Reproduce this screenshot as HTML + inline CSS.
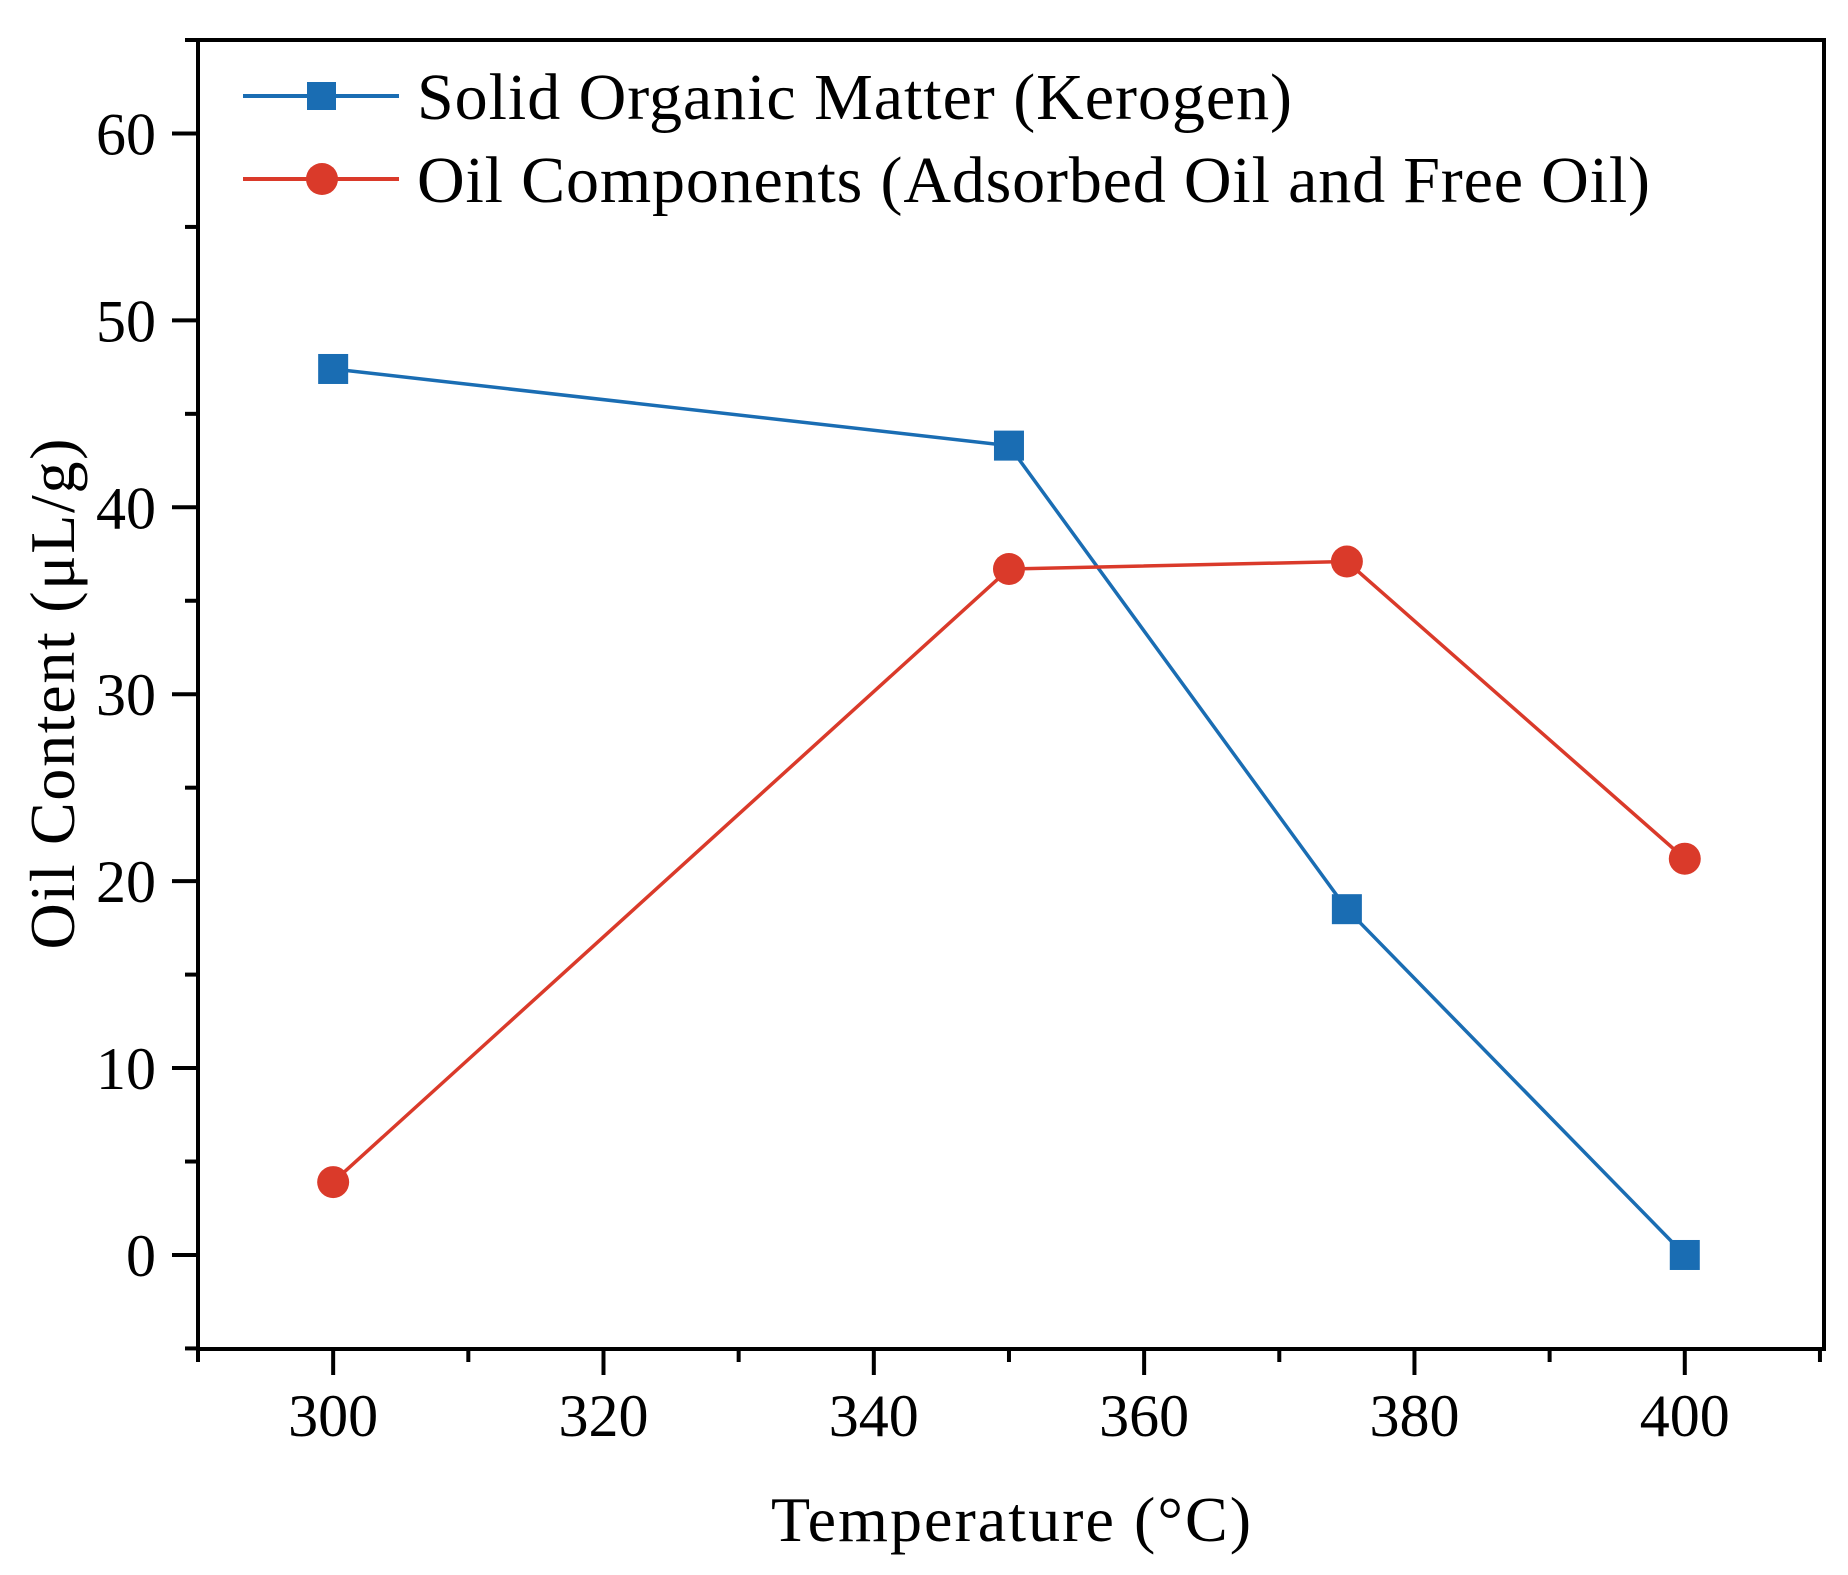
<!DOCTYPE html>
<html><head><meta charset="utf-8"><style>
html,body{margin:0;padding:0;background:#fff;}
svg{display:block;font-family:"Liberation Serif","DejaVu Serif",serif;}
</style></head><body>
<svg id="chart" width="1848" height="1575" viewBox="0 0 1848 1575" xmlns="http://www.w3.org/2000/svg"></svg>
<script>
const categories = [300, 350, 375, 400];
const kerogenValues = [47.4, 43.3, 18.5, 0];
const oilValues = [3.9, 36.7, 37.1, 21.2];
const xTickLabels = [300, 320, 340, 360, 380, 400];
const yTickLabels = [0, 10, 20, 30, 40, 50, 60];

const NS = "http://www.w3.org/2000/svg";
const svg = document.getElementById('chart');
const L = 198, R = 1824, T = 40, B = 1349;
const xMin = 290, xMax = 410.3, yMin = -5.03, yMax = 65;
const xs = v => L + (v - xMin) / (xMax - xMin) * (R - L);
const ys = v => B - (v - yMin) / (yMax - yMin) * (B - T);
function mk(tag, attrs, parent) {
  const e = document.createElementNS(NS, tag);
  for (const k in attrs) e.setAttribute(k, attrs[k]);
  (parent || svg).appendChild(e);
  return e;
}

const frame = mk('rect', {x: L, y: T, width: R - L, height: B - T, fill: 'none', stroke: '#000', 'stroke-width': 4});



for (let v = 290; v <= 410; v += 10) {
  const major = v % 20 === 0;
  const t = mk('line', {x1: xs(v), x2: xs(v), y1: B, y2: B + (major ? 26 : 13), stroke: '#000', 'stroke-width': 4});
  
  
}
xTickLabels.forEach(v => {
  const t = mk('text', {x: xs(v), y: 1436, 'font-size': 60, 'text-anchor': 'middle', fill: '#000'});
  t.textContent = v;
  
  
});
for (let v = -5; v <= 65; v += 5) {
  const major = v % 10 === 0;
  const t = mk('line', {x1: L, x2: L - (major ? 26 : 13), y1: ys(v), y2: ys(v), stroke: '#000', 'stroke-width': 4});
  
  
}
yTickLabels.forEach(v => {
  const t = mk('text', {x: 156, y: ys(v) + 21, 'font-size': 60, 'text-anchor': 'end', fill: '#000'});
  t.textContent = v;
  
  
});

const xt = mk('text', {x: 1011, y: 1541, 'font-size': 64, 'text-anchor': 'middle', fill: '#000', textLength: 480});
xt.textContent = 'Temperature (°C)';


const yt = mk('text', {x: 0, y: 0, 'font-size': 64, 'text-anchor': 'middle', fill: '#000', transform: 'translate(74,694) rotate(-90)', textLength: 511});
yt.textContent = 'Oil Content (μL/g)';



function series(vals, color, shape, name) {
  const pts = categories.map((c, i) => xs(c) + ',' + ys(vals[i])).join(' ');
  const pl = mk('polyline', {points: pts, fill: 'none', stroke: color, 'stroke-width': 3.5});
  
  
  categories.forEach((c, i) => {
    let m;
    if (shape === 'square') m = mk('rect', {x: xs(c) - 15, y: ys(vals[i]) - 15, width: 30, height: 30, fill: color});
    else m = mk('circle', {cx: xs(c), cy: ys(vals[i]), r: 16, fill: color});
    
    
  });
}
series(kerogenValues, '#1a6db3', 'square', 'kerogen');
series(oilValues, '#da3a2a', 'circle', 'oil');

function legend(y, color, shape, label, len, name) {
  const l = mk('line', {x1: 243, x2: 399, y1: y, y2: y, stroke: color, 'stroke-width': 4});
  
  
  let m;
  if (shape === 'square') m = mk('rect', {x: 307, y: y - 14, width: 29, height: 28, fill: color});
  else m = mk('circle', {cx: 322, cy: y, r: 16, fill: color});
  
  
  const t = mk('text', {x: 417, y: y + 23, 'font-size': 66, fill: '#000', textLength: len});
  t.textContent = label;
  
  
}
legend(96, '#1a6db3', 'square', 'Solid Organic Matter (Kerogen)', 875, 'kerogen');
legend(179, '#da3a2a', 'circle', 'Oil Components (Adsorbed Oil and Free Oil)', 1233, 'oil');
</script>
</body></html>
